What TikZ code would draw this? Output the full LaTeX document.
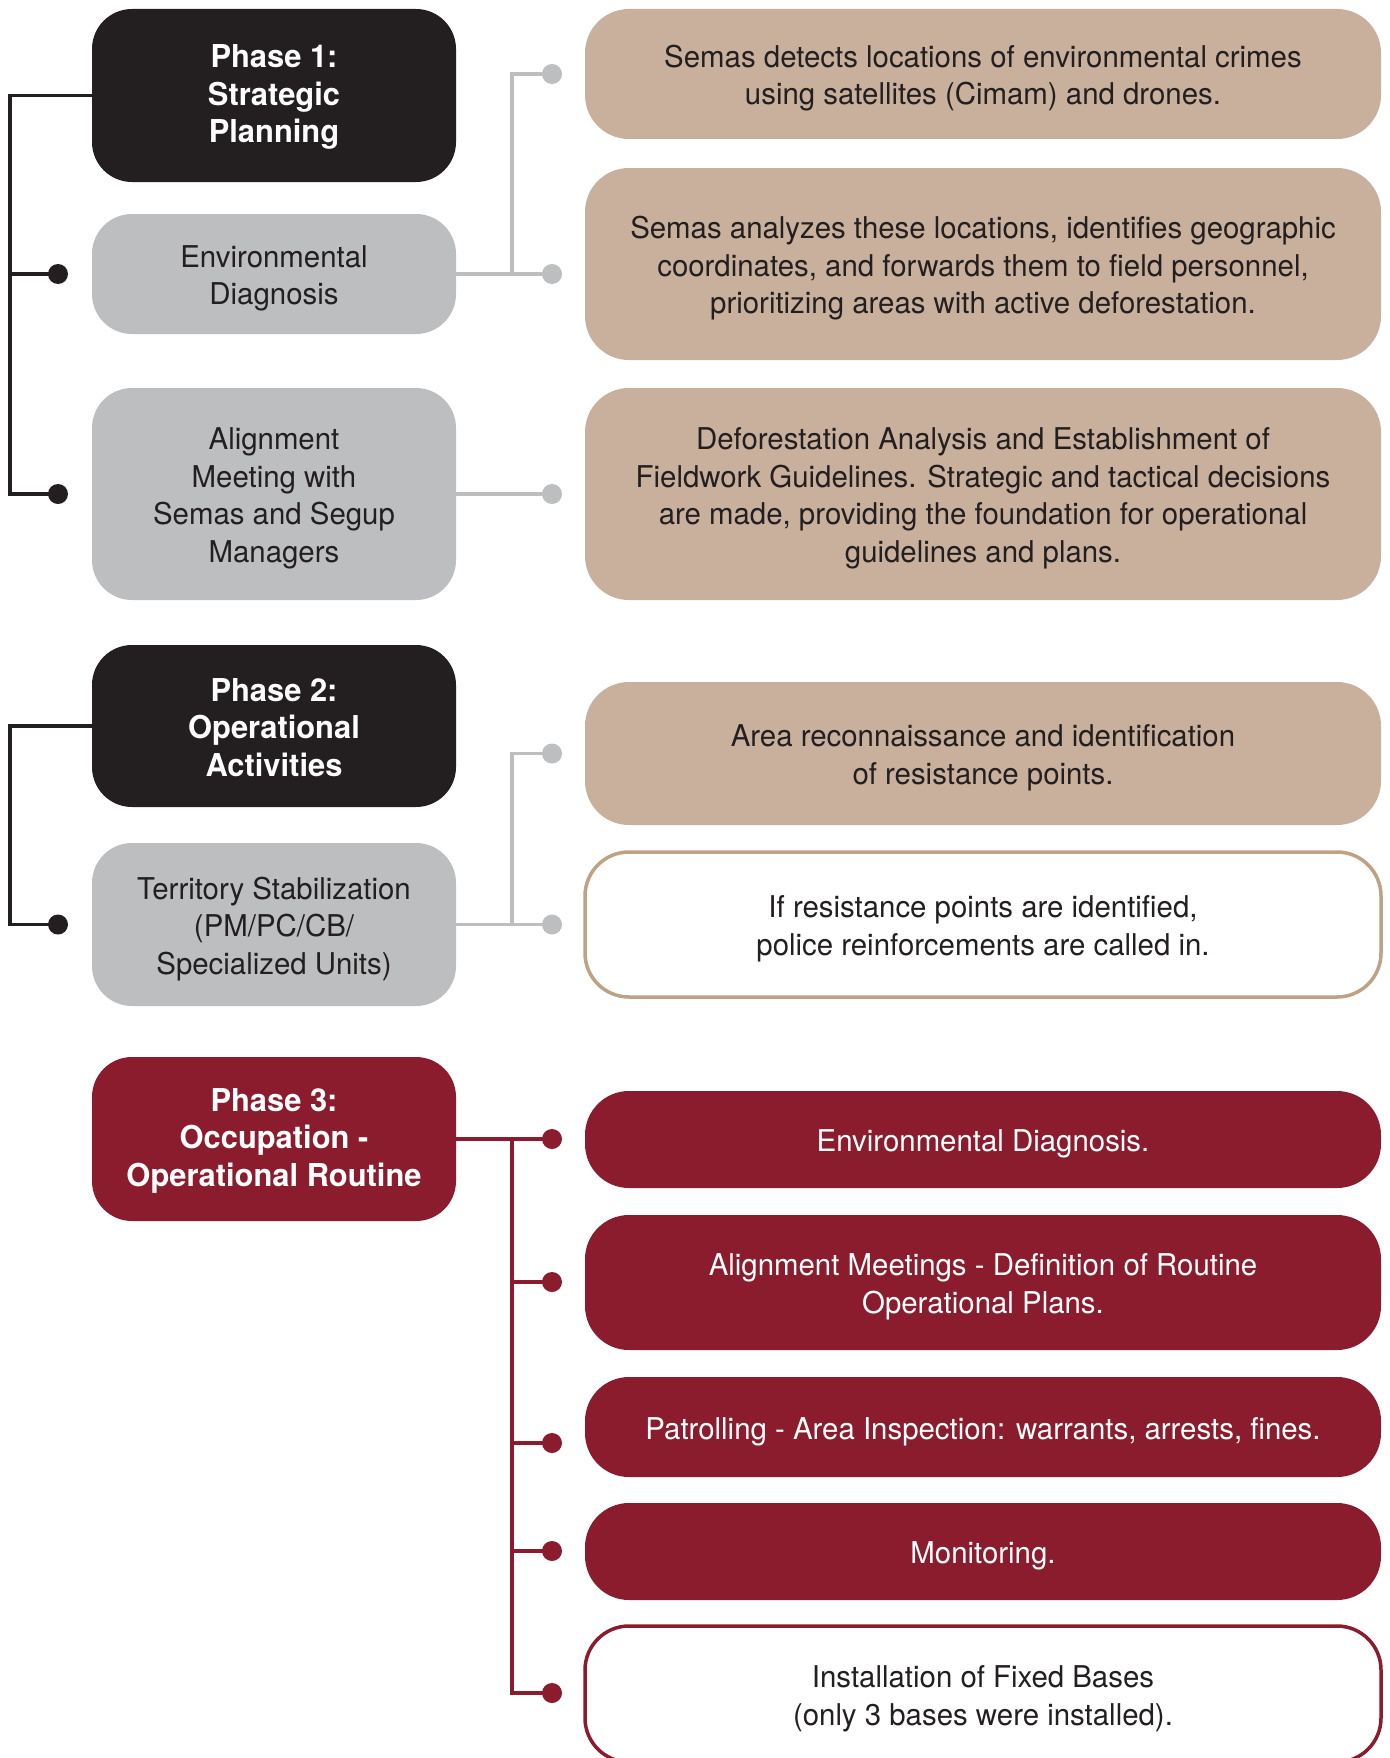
\documentclass[tikz,border=0pt]{standalone}
\usepackage{fontspec}
\setmainfont{TeX Gyre Heros}[FakeStretch=0.98]
\definecolor{pblack}{HTML}{231F20}
\definecolor{pgray}{HTML}{BCBEC0}
\definecolor{ptan}{HTML}{C8B09D}
\definecolor{pred}{HTML}{8A1C2D}
\definecolor{ptanline}{HTML}{BFA183}
\definecolor{ptext}{HTML}{231F20}
\newcommand\tstrut{\rule{0pt}{31pt}}
\newcommand\pstrut{\rule{0pt}{26pt}}
\begin{document}
\begin{tikzpicture}[x=1pt,y=-1pt,
  box/.style={rounded corners=40pt, align=center, inner sep=0pt, text=ptext,
    font=\fontsize{30}{37.5}\selectfont},
  leftbox/.style={box, minimum width=364pt},
  rightbox/.style={box, minimum width=796pt, rounded corners=44pt},
  phasebox/.style={leftbox, fill=pblack, text=white, font=\bfseries\fontsize{31.5}{37.5}\selectfont},
  subbox/.style={leftbox, fill=pgray},
  tanbox/.style={rightbox, fill=ptan},
  tanline/.style={rightbox, fill=white, draw=ptanline, line width=3.5pt},
  redbox/.style={rightbox, fill=pred, text=white},
  redline/.style={rightbox, fill=white, draw=pred, line width=3.5pt},
  redphase/.style={leftbox, fill=pred, text=white, font=\bfseries\fontsize{31.5}{37.5}\selectfont},
  bline/.style={draw=pblack, line width=3.4pt},
  gline/.style={draw=pgray, line width=3.4pt},
  rline/.style={draw=pred, line width=3.4pt},
  bdot/.style={circle, fill=pblack, minimum size=20pt, inner sep=0pt},
  gdot/.style={circle, fill=pgray, minimum size=20pt, inner sep=0pt},
  rdot/.style={circle, fill=pred, minimum size=20pt, inner sep=0pt}]
\useasboundingbox (0,0) rectangle (1389,1758);

% left column
\node[phasebox, minimum height=173pt] (p1) at (274,95.5) {\pstrut Phase 1:\\Strategic\\Planning};
\node[subbox, minimum height=120pt] (env) at (274,274) {\tstrut Environmental\\Diagnosis};
\node[subbox, minimum height=212pt] (align) at (274,494) {\tstrut Alignment\\Meeting with\\Semas and Segup\\Managers};
\node[phasebox, minimum height=162pt] (p2) at (274,726) {\pstrut Phase 2:\\Operational\\Activities};
\node[subbox, minimum height=163pt] (terr) at (274,924.5) {\tstrut Territory Stabilization\\(PM/PC/CB/\\Specialized Units)};
\node[redphase, minimum height=164pt] (p3) at (274,1139) {\pstrut Phase 3:\\Occupation -\\Operational Routine};

% right column
\node[tanbox, minimum height=130pt] (r1) at (983,74) {\tstrut Semas detects locations of environmental crimes\\using satellites (Cimam) and drones.};
\node[tanbox, minimum height=192pt] (r2) at (983,264) {\tstrut Semas analyzes these locations, identifies geographic\\coordinates, and forwards them to field personnel,\\prioritizing areas with active deforestation.};
\node[tanbox, minimum height=212pt] (r3) at (983,494) {\tstrut Deforestation Analysis and Establishment of\\Fieldwork Guidelines. Strategic and tactical decisions\\are made, providing the foundation for operational\\guidelines and plans.};
\node[tanbox, minimum height=143pt] (r4) at (983,753.5) {\tstrut Area reconnaissance and identification\\of resistance points.};
\node[tanline, minimum height=145pt] (r5) at (983,924.5) {\tstrut If resistance points are identified,\\police reinforcements are called in.};
\node[redbox, minimum height=97pt] (r6) at (983,1139.5) {\tstrut Environmental Diagnosis.};
\node[redbox, minimum height=135pt] (r7) at (983,1282.5) {\tstrut Alignment Meetings - Definition of Routine\\Operational Plans.};
\node[redbox, minimum height=100pt] (r8) at (983,1427) {\tstrut Patrolling - Area Inspection: warrants, arrests, fines.};
\node[redbox, minimum height=97pt] (r9) at (983,1551.5) {\tstrut Monitoring.};
\node[redline, minimum height=136pt] (r10) at (983,1694) {\tstrut Installation of Fixed Bases\\(only 3 bases were installed).};

% black brackets
\node[bdot] (d1) at (58,274) {};
\node[bdot] (d2) at (58,494) {};
\node[bdot] (d3) at (58,924.5) {};
\coordinate (k1) at (10,95.5);
\coordinate (k2) at (10,726);
\draw[bline] (p1.west) -- (k1) |- (d2.center);
\draw[bline] (k1 |- d1) -- (d1.center);
\draw[bline] (p2.west) -- (k2) |- (d3.center);

% gray connectors
\node[gdot] (g1) at (552,74) {};
\node[gdot] (g2) at (552,274) {};
\node[gdot] (g3) at (552,494) {};
\node[gdot] (g4) at (552,753.5) {};
\node[gdot] (g5) at (552,924.5) {};
\coordinate (j1) at (512,274);
\coordinate (j2) at (512,924.5);
\draw[gline] (env.east) -- (g2.center);
\draw[gline] (j1) |- (g1.center);
\draw[gline] (align.east) -- (g3.center);
\draw[gline] (terr.east) -- (g5.center);
\draw[gline] (j2) |- (g4.center);

% red connectors
\node[rdot] (e1) at (552,1139) {};
\node[rdot] (e2) at (552,1282) {};
\node[rdot] (e3) at (552,1443) {};
\node[rdot] (e4) at (552,1551) {};
\node[rdot] (e5) at (552,1693) {};
\coordinate (j3) at (512,1139);
\draw[rline] (p3.east) -- (e1.center);
\draw[rline] (j3) |- (e5.center);
\draw[rline] (j3 |- e2) -- (e2.center);
\draw[rline] (j3 |- e3) -- (e3.center);
\draw[rline] (j3 |- e4) -- (e4.center);
\end{tikzpicture}
\end{document}
